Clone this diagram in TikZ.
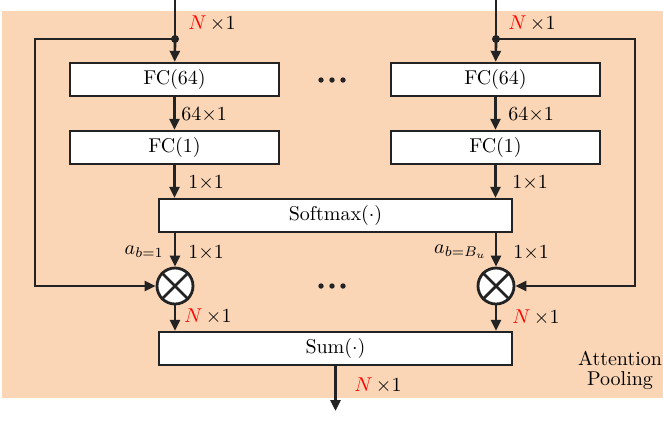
\documentclass[tikz,border=0pt]{standalone}
\usepackage{amsmath,amssymb}
\usepackage{tikz}
\usetikzlibrary{arrows.meta,calc,positioning}
\usepackage{xcolor}
\definecolor{poolbg}{RGB}{250,214,183}
\definecolor{linegray}{RGB}{35,35,35}
\newcommand{\dimred}{\textcolor{red}{$N$}\,$\times$1}
\tikzset{
  layer box/.style={draw=linegray,line width=1.2pt,fill=white,minimum width=104.5pt,minimum height=16.5pt,inner sep=0pt,font=\normalsize},
  wide box/.style={layer box,minimum width=176.5pt},
  mult/.style={circle,draw=linegray,line width=1.4pt,fill=white,minimum size=18pt,inner sep=0pt},
  flow/.style={line width=1.35pt,draw=linegray,-{Triangle[length=5.5pt,width=5pt]}},
  plain flow/.style={line width=1.35pt,draw=linegray},
  dim label/.style={font=\normalsize,inner sep=0pt}
}
\newcommand{\JoinDot}[1]{\fill[linegray] (#1) circle (2pt);}
\newcommand{\SkipDots}[1]{\foreach \dx in {-11,0,11} {\fill[linegray] ($(#1)+(\dx,0)$) circle (2.7);}}

\begin{document}
\begin{tikzpicture}[x=0.5pt,y=-0.5pt,line cap=butt,line join=miter]
  \useasboundingbox (0,0) rectangle (663,420);
  \fill[poolbg] (2,11) rectangle (663,398);

  % branch blocks
  \node[layer box] (fca) at (174.5,79.5) {FC(64)};
  \node[layer box] (fcoa) at (174.5,147.5) {FC(1)};
  \node[layer box] (fcb) at (495.5,79.5) {FC(64)};
  \node[layer box] (fcob) at (495.5,147.5) {FC(1)};
  \node[wide box] (soft) at (335.5,215.5) {Softmax$(\cdot)$};
  \node[mult] (mula) at (175,286) {};
  \node[mult] (mulb) at (496,286) {};
  \node[wide box] (sum) at (335.5,348.5) {Sum$(\cdot)$};

  \draw[linegray,line width=1.4pt] (mula.north west) -- (mula.south east)
        (mula.north east) -- (mula.south west)
        (mulb.north west) -- (mulb.south east)
        (mulb.north east) -- (mulb.south west);

  \coordinate (ina) at (175,0);
  \coordinate (inb) at (496,0);
  \coordinate (spa) at (175,39);
  \coordinate (spb) at (496,39);
  \coordinate (outp) at (335.5,411);

  \draw[plain flow] (ina) -- (spa);
  \draw[plain flow] (inb) -- (spb);
  \draw[flow] (spa) -- (fca);
  \draw[flow] (spb) -- (fcb);
  \draw[flow] (fca) -- (fcoa);
  \draw[flow] (fcb) -- (fcob);
  \draw[flow] (fcoa) -- (fcoa |- soft.north);
  \draw[flow] (fcob) -- (fcob |- soft.north);
  \draw[flow] (soft.south -| mula) -- (mula);
  \draw[flow] (soft.south -| mulb) -- (mulb);
  \draw[flow] (mula) -- (mula |- sum.north);
  \draw[flow] (mulb) -- (mulb |- sum.north);
  \draw[flow] (sum) -- (outp);
  \draw[flow] (spa) -- (35,39) |- (mula);
  \draw[flow] (spb) -- (635,39) |- (mulb);
  \JoinDot{spa}
  \JoinDot{spb}

  \SkipDots{332,80}
  \SkipDots{332,286}

  \node[dim label,anchor=west] at (188,23) {\dimred};
  \node[dim label,anchor=west] at (508,23) {\dimred};
  \node[dim label,anchor=west] at (181,115) {64$\times$1};
  \node[dim label,anchor=west] at (508,115) {64$\times$1};
  \node[dim label,anchor=west] at (188,183) {1$\times$1};
  \node[dim label,anchor=west] at (512,183) {1$\times$1};
  \node[dim label,anchor=east] at (164,252) {$a_{b=1}$};
  \node[dim label,anchor=east] at (487,252) {$a_{b=B_u}$};
  \node[dim label,anchor=west] at (188,253) {1$\times$1};
  \node[dim label,anchor=west] at (513,253) {1$\times$1};
  \node[dim label,anchor=west] at (184,316) {\dimred};
  \node[dim label,anchor=west] at (512,317) {\dimred};
  \node[dim label,anchor=west] at (354,385) {\dimred};
  \node[dim label,align=center] at (620,370) {Attention\\[-2pt]Pooling};
\end{tikzpicture}
\end{document}
